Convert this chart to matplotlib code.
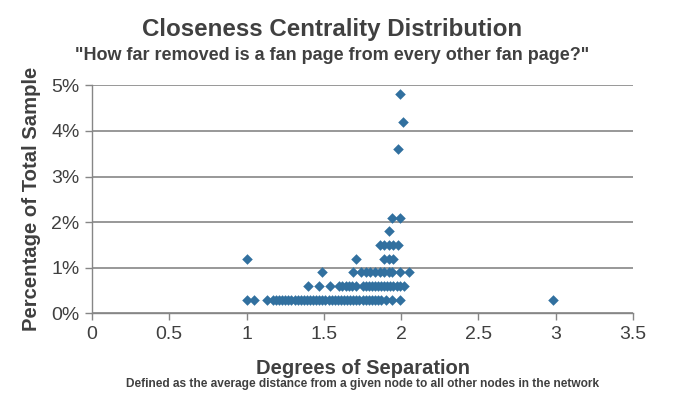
import matplotlib
matplotlib.use("Agg")
import matplotlib.pyplot as plt
from matplotlib.ticker import FuncFormatter

# ─── data: degrees of separation per share level (% of sample) ───
x_03 = [1.00, 1.05, 1.13, 1.17, 1.19, 1.21, 1.23, 1.25, 1.27, 1.29,
        1.31, 1.33, 1.35, 1.37, 1.39, 1.41, 1.43, 1.45, 1.47, 1.49,
        1.51, 1.53, 1.55, 1.57, 1.59, 1.61, 1.63, 1.65, 1.67, 1.69,
        1.71, 1.73, 1.75, 1.77, 1.79, 1.81, 1.83, 1.85, 1.87, 1.90,
        1.94, 1.99, 2.98]
x_06 = [1.40, 1.47, 1.54, 1.60, 1.62, 1.64, 1.66, 1.68, 1.71, 1.75,
        1.77, 1.79, 1.81, 1.83, 1.85, 1.87, 1.89, 1.91, 1.93, 1.95,
        1.97, 1.99, 2.02]
x_09 = [1.49, 1.69, 1.74, 1.77, 1.80, 1.83, 1.86, 1.89, 1.92, 1.94,
        1.99, 2.05]
x_12 = [1.00, 1.71, 1.89, 1.92, 1.95]
x_15 = [1.86, 1.89, 1.92, 1.95, 1.98]
x_18 = [1.92]
x_21 = [1.94, 1.99]
x_36 = [1.98]
x_42 = [2.01]
x_48 = [1.99]

levels = [0.3, 0.6, 0.9, 1.2, 1.5, 1.8, 2.1, 3.6, 4.2, 4.8]
groups = [x_03, x_06, x_09, x_12, x_15, x_18, x_21, x_36, x_42, x_48]

x_ticks = [0, 0.5, 1, 1.5, 2, 2.5, 3, 3.5]
y_ticks = [0, 1, 2, 3, 4, 5]

TXT = "#404040"
GRID = "#868686"
MARK = "#31709f"

plt.rcParams["font.family"] = ["Liberation Sans", "DejaVu Sans"]

fig = plt.figure(figsize=(6.73, 3.99), dpi=100)
ax = fig.add_axes([0.1367, 0.2148, 0.8040, 0.5714])

xs, ys = [], []
for lvl, grp in zip(levels, groups):
    xs += grp
    ys += [lvl] * len(grp)
ax.scatter(xs, ys, marker="D", s=29, color=MARK, linewidths=0, zorder=3)

ax.set_xlim(0, 3.5)
ax.set_ylim(0, 5)
ax.set_xticks(x_ticks)
ax.set_yticks(y_ticks)
ax.xaxis.set_major_formatter(FuncFormatter(lambda v, p: f"{v:g}"))
ax.yaxis.set_major_formatter(FuncFormatter(lambda v, p: f"{v:.0f}%"))
ax.yaxis.grid(True, color=GRID, linewidth=1.2)
ax.set_axisbelow(True)
for side in ("top", "right"):
    ax.spines[side].set_visible(False)
for side in ("left", "bottom"):
    ax.spines[side].set_color(GRID)
    ax.spines[side].set_linewidth(1.0)
ax.tick_params(axis="both", colors=GRID, length=5, width=1.0,
               labelsize=14, labelcolor=TXT, pad=4)

ax.set_xlabel("Degrees of Separation", fontsize=14.5, fontweight="bold",
              color=TXT, labelpad=12)
ax.set_ylabel("Percentage of Total Sample", fontsize=14.6, fontweight="bold",
              color=TXT, labelpad=7)

fig.text(0.493, 0.925, "Closeness Centrality Distribution", ha="center",
         va="center", fontsize=17.4, fontweight="bold", color=TXT)
fig.text(0.493, 0.861, "\"How far removed is a fan page from every other fan page?\"",
         ha="center", va="center", fontsize=13, fontweight="bold", color=TXT)
fig.text(0.538, 0.037, "Defined as the average distance from a given node to all "
         "other nodes in the network", ha="center", va="center", fontsize=8.6,
         fontweight="bold", color=TXT)

fig.savefig("out.png", dpi=100)
